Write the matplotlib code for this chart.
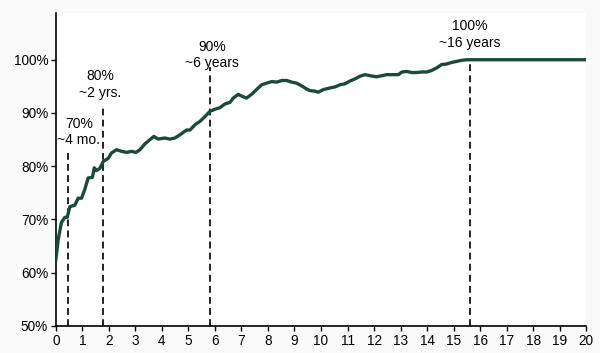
import matplotlib
matplotlib.use("Agg")
import matplotlib.pyplot as plt
from matplotlib.ticker import FuncFormatter

plt.rcParams['font.family'] = ['Liberation Sans', 'DejaVu Sans']

# share of outcomes (%) vs holding period (years)
years = [0.0, 0.09, 0.21, 0.34, 0.43, 0.53, 0.72, 0.84, 0.97, 1.09, 1.22, 1.38, 1.45,
         1.53, 1.66, 1.79, 1.98, 2.10, 2.29, 2.48, 2.67, 2.86, 3.02, 3.17, 3.36, 3.55,
         3.70, 3.86, 4.11, 4.30, 4.49, 4.68, 4.93, 5.06, 5.25, 5.43, 5.62, 5.81, 6.00,
         6.19, 6.38, 6.57, 6.69, 6.88, 7.00, 7.19, 7.38, 7.57, 7.76, 7.95, 8.14, 8.33,
         8.52, 8.71, 8.89, 9.08, 9.27, 9.46, 9.58, 9.77, 9.90, 10.09, 10.34, 10.53,
         10.72, 10.91, 11.09, 11.28, 11.47, 11.66, 11.85, 12.10, 12.29, 12.48, 12.73,
         12.92, 13.05, 13.23, 13.42, 13.61, 13.80, 13.99, 14.18, 14.37, 14.55, 14.74,
         14.93, 15.12, 15.31, 15.50, 16.0, 17.0, 18.0, 19.0, 20.0]
pct = [62.4, 66.2, 69.4, 70.4, 70.4, 72.4, 72.7, 74.0, 74.0, 75.6, 77.8, 77.9, 79.7,
       79.2, 79.6, 80.9, 81.5, 82.5, 83.1, 82.8, 82.6, 82.8, 82.6, 83.1, 84.2, 85.0,
       85.6, 85.1, 85.3, 85.1, 85.3, 85.9, 86.8, 86.8, 87.8, 88.4, 89.3, 90.3, 90.7,
       91.0, 91.7, 92.0, 92.8, 93.5, 93.2, 92.8, 93.5, 94.4, 95.3, 95.6, 95.9, 95.8,
       96.1, 96.1, 95.8, 95.6, 95.1, 94.5, 94.2, 94.1, 93.9, 94.4, 94.7, 94.9,
       95.3, 95.5, 96.0, 96.4, 96.9, 97.2, 97.0, 96.8, 97.0, 97.2, 97.2,
       97.2, 97.7, 97.8, 97.6, 97.6, 97.7, 97.7, 98.0, 98.5, 99.1, 99.2,
       99.5, 99.7, 99.9, 100.0, 100.0, 100.0, 100.0, 100.0, 100.0]

# threshold markers
mark_x = [0.47, 1.78, 5.81, 15.6]
mark_top = [83.1, 91.4, 98.7, 100.0]
label_x = [0.87, 1.66, 5.89, 15.62]
label_y = [83.6, 92.5, 98.0, 101.9]
labels = ["70%\n~4 mo.", "80%\n~2 yrs.", "90%\n~6 years", "100%\n~16 years"]

fig = plt.figure(figsize=(6.0, 3.53), dpi=100, facecolor='#fafafa')
ax = fig.add_axes([0.093, 0.0765, 0.884, 0.887])

for x, top in zip(mark_x, mark_top):
    ax.plot([x, x], [50, top], color='#222222', lw=1.4, dashes=(3.5, 2.2), zorder=2)

ax.plot(years, pct, color='#1b4a3a', lw=2.4, solid_joinstyle='round', zorder=3)

for x, y, t in zip(label_x, label_y, labels):
    ax.text(x, y, t, ha='center', va='bottom', fontsize=10, linespacing=1.2)

ax.set_xlim(0, 20)
ax.set_ylim(50, 108.8)
ax.set_xticks(range(0, 21))
ax.set_yticks(range(50, 101, 10))
ax.yaxis.set_major_formatter(FuncFormatter(lambda v, p: f"{v:.0f}%"))
ax.tick_params(labelsize=9.8, length=3.5, width=1.0, direction='out', pad=2)
for side in ['top', 'right']:
    ax.spines[side].set_visible(False)
for side in ['left', 'bottom']:
    ax.spines[side].set_linewidth(1.2)

fig.savefig("out.png", dpi=100, facecolor=fig.get_facecolor())
